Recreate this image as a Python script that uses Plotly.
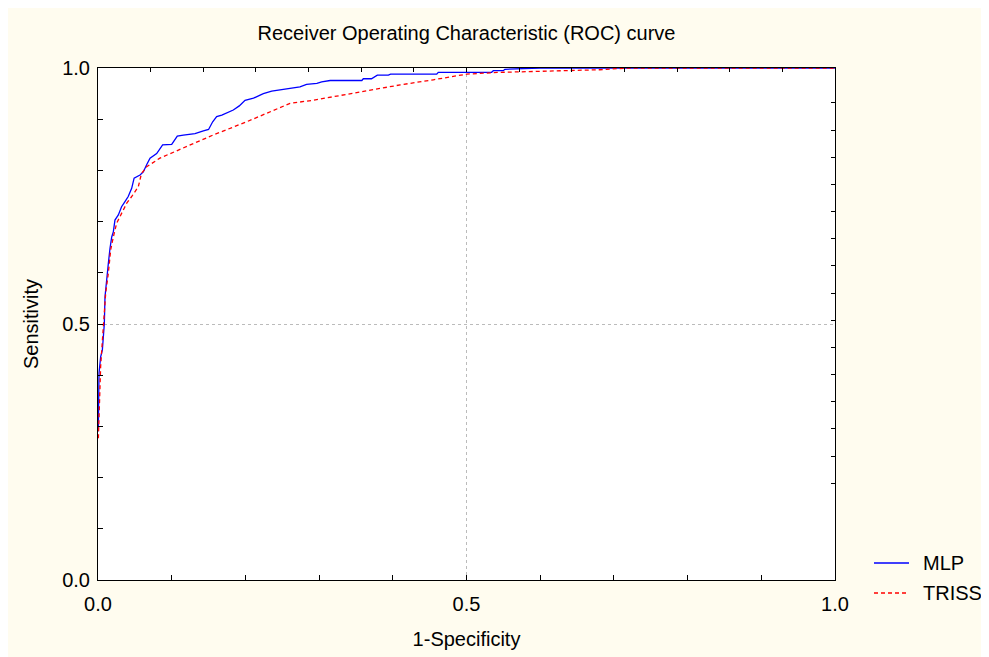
import plotly.graph_objects as go

# ---------------- data ----------------
mlp_fpr = [0.0, 0.0005, 0.0014, 0.0036, 0.0059, 0.0072, 0.0086, 0.0095, 0.0118, 0.014,
           0.0163, 0.0186, 0.0208, 0.023, 0.0276, 0.032, 0.0366, 0.041, 0.0457, 0.049,
           0.057, 0.0615, 0.066, 0.0706, 0.0796, 0.0877, 0.100, 0.1076, 0.1158, 0.1316,
           0.143, 0.150, 0.1556, 0.161, 0.168, 0.1746, 0.1836, 0.1917, 0.1995, 0.211,
           0.2243, 0.2357, 0.247, 0.2605, 0.274, 0.283, 0.297, 0.3035, 0.315, 0.358,
           0.36, 0.371, 0.379, 0.394, 0.397, 0.4596, 0.4617, 0.534, 0.5364, 0.55,
           0.552, 0.60, 1.0]
mlp_tpr = [0.29, 0.30, 0.404, 0.436, 0.449, 0.469, 0.501, 0.553, 0.592, 0.618,
           0.648, 0.670, 0.680, 0.703, 0.713, 0.729, 0.739, 0.749, 0.765, 0.785,
           0.791, 0.797, 0.811, 0.824, 0.833, 0.850, 0.851, 0.867, 0.869, 0.872,
           0.877, 0.880, 0.895, 0.905, 0.908, 0.912, 0.918, 0.926, 0.937, 0.941,
           0.950, 0.955, 0.957, 0.960, 0.963, 0.968, 0.970, 0.973, 0.9756, 0.9756,
           0.979, 0.979, 0.986, 0.986, 0.988, 0.988, 0.9916, 0.9916, 0.9947, 0.9947,
           0.9975, 1.0, 1.0]

triss_fpr = [0.0005, 0.0018, 0.0036, 0.006, 0.008, 0.0104, 0.014, 0.0172, 0.0208, 0.0253,
             0.032, 0.039, 0.0457, 0.0547, 0.059, 0.066, 0.084, 0.111, 0.156, 0.2018,
             0.2605, 0.292, 0.319, 0.3646, 0.41, 0.455, 0.5003, 0.5455, 0.59, 0.636,
             0.681, 0.72, 1.0]
triss_tpr = [0.277, 0.352, 0.417, 0.469, 0.521, 0.56, 0.599, 0.645, 0.670, 0.697,
             0.716, 0.736, 0.749, 0.768, 0.794, 0.807, 0.824, 0.841, 0.869, 0.895,
             0.931, 0.937, 0.944, 0.956, 0.967, 0.977, 0.988, 0.9915, 0.9935, 0.9955,
             0.9966, 1.0, 1.0]

series_names = ["MLP", "TRISS"]
series_colors = ["#0000FF", "#FF0000"]
series_dash = ["solid", "4px,3px"]
major_ticks = [0.0, 0.5, 1.0]
major_labels = ["0.0", "0.5", "1.0"]

title_text = "Receiver Operating Characteristic (ROC) curve"
x_title = "1-Specificity"
y_title = "Sensitivity"

# ---------------- styling ----------------
FONT = "Arial, 'Liberation Sans', sans-serif"
CREAM = "#FFFCEF"
W, H = 981, 649
L, R, T, B = 90, 154, 60, 77
PW, PH = W - L - R, H - T - B


def px_x(fx):
    return (fx - L) / PW


def px_y(fy):
    return (H - B - fy) / PH


top_ticks = [k / 14 for k in range(1, 14)]
right_ticks = [0.189 + 0.05306 * k for k in range(15)]

fig = go.Figure()
fig.add_trace(go.Scatter(x=mlp_fpr, y=mlp_tpr, mode="lines", name=series_names[0],
                         showlegend=False,
                         line=dict(color=series_colors[0], width=1.3, dash=series_dash[0])))
fig.add_trace(go.Scatter(x=triss_fpr, y=triss_tpr, mode="lines", name=series_names[1],
                         showlegend=False,
                         line=dict(color=series_colors[1], width=1.3, dash=series_dash[1])))
# dummy trace for the mirrored tick axes
fig.add_trace(go.Scatter(x=[None], y=[None], xaxis="x2", yaxis="y2",
                         showlegend=False, hoverinfo="skip"))

axis_common = dict(
    range=[0, 1], showline=True, linecolor="black", linewidth=1, mirror=True,
    zeroline=False, ticks="inside", ticklen=5, tickcolor="black",
    showgrid=True, gridcolor="#BBBBBB", griddash="dot", gridwidth=1,
    tickfont=dict(family=FONT, size=20, color="black"),
    minor=dict(dtick=0.1, ticks="inside", ticklen=5, tickcolor="black", showgrid=False),
)

# manual legend (line samples + labels)
legend_rows_y = [555, 585]
shapes = []
annotations = []
for name, col, dash, fy in zip(series_names, series_colors, series_dash, legend_rows_y):
    shapes.append(dict(type="line", xref="paper", yref="paper",
                       x0=px_x(866), x1=px_x(901), y0=px_y(fy), y1=px_y(fy),
                       line=dict(color=col, width=1.3, dash=dash)))
    annotations.append(dict(text=name, xref="paper", yref="paper",
                            x=px_x(913), y=px_y(fy), xanchor="left", yanchor="middle",
                            showarrow=False,
                            font=dict(family=FONT, size=20, color="black")))

fig.update_layout(
    width=W, height=H,
    margin=dict(l=L, r=R, t=T, b=B, autoexpand=False),
    paper_bgcolor=CREAM, plot_bgcolor="white",
    font=dict(family=FONT, size=20, color="black"),
    title=dict(text=title_text, x=0.5, xref="paper", xanchor="center",
               y=1 - 25 / H, yref="container", yanchor="middle",
               font=dict(family=FONT, size=20, color="black")),
    xaxis=dict(**axis_common, tickvals=major_ticks, ticktext=major_labels,
               ticklabelstandoff=6,
               title=dict(text=x_title, standoff=17,
                          font=dict(family=FONT, size=20, color="black"))),
    yaxis=dict(**axis_common, tickvals=major_ticks, ticktext=major_labels,
               ticklabelstandoff=3,
               title=dict(text=y_title, standoff=18,
                          font=dict(family=FONT, size=20, color="black"))),
    xaxis2=dict(overlaying="x", side="top", range=[0, 1], tickvals=top_ticks,
                ticks="inside", ticklen=4, tickcolor="black", showticklabels=False,
                showgrid=False, showline=False, zeroline=False),
    yaxis2=dict(overlaying="y", side="right", range=[0, 1], tickvals=right_ticks,
                ticks="inside", ticklen=4, tickcolor="black", showticklabels=False,
                showgrid=False, showline=False, zeroline=False),
    showlegend=False,
    shapes=shapes,
    annotations=annotations,
)

fig.write_html("out.html")
